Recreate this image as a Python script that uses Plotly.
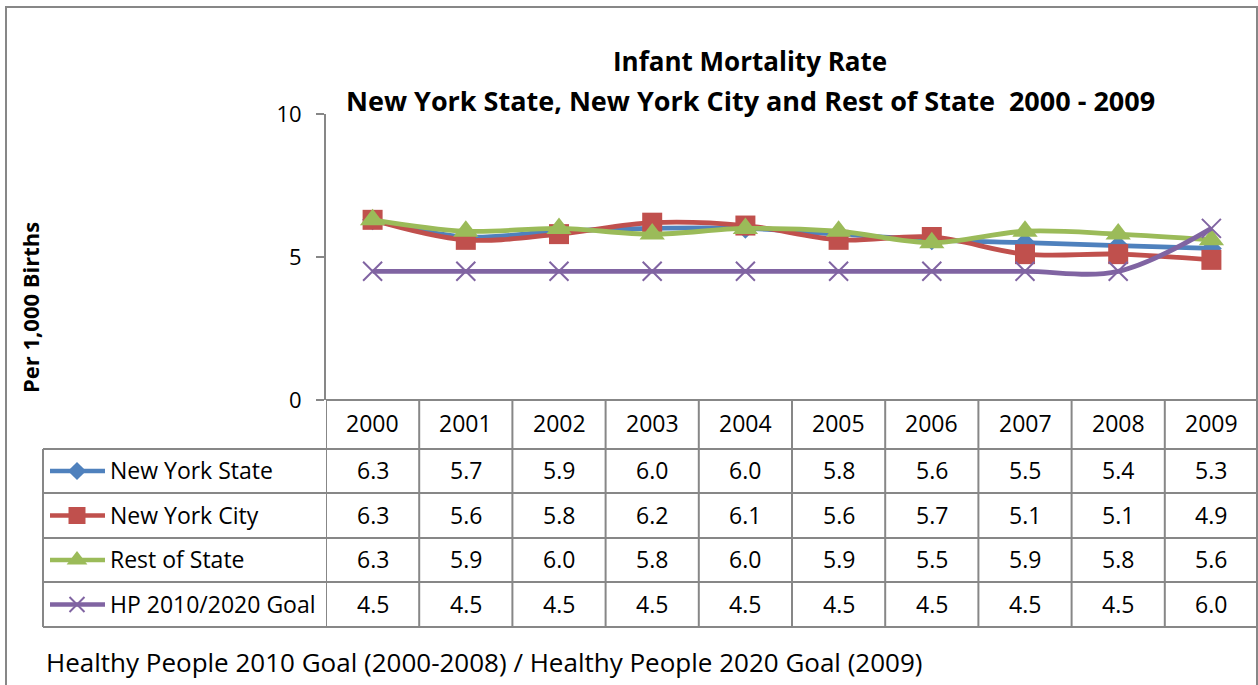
import plotly.graph_objects as go

# ---------------- data ----------------
years = ["2000", "2001", "2002", "2003", "2004", "2005", "2006", "2007", "2008", "2009"]
nys = [6.3, 5.7, 5.9, 6.0, 6.0, 5.8, 5.6, 5.5, 5.4, 5.3]
nyc = [6.3, 5.6, 5.8, 6.2, 6.1, 5.6, 5.7, 5.1, 5.1, 4.9]
ros = [6.3, 5.9, 6.0, 5.8, 6.0, 5.9, 5.5, 5.9, 5.8, 5.6]
goal = [4.5, 4.5, 4.5, 4.5, 4.5, 4.5, 4.5, 4.5, 4.5, 6.0]
series_names = ["New York State", "New York City", "Rest of State", "HP 2010/2020 Goal"]
y_ticks = [0, 5, 10]

title_line1 = "Infant Mortality Rate"
title_line2 = "New York State, New York City and Rest of State\u00a0\u00a02000 - 2009"
y_title = "Per 1,000 Births"
footnote = "Healthy People 2010 Goal (2000-2008) / Healthy People 2020 Goal (2009)"

# ---------------- styles ----------------
W, H = 1258, 685
FONT = "Open Sans"
GRAY = "#878787"
colors = ["#4F81BD", "#C0504D", "#9BBB59", "#8064A2"]
symbols = ["diamond", "square", "triangle-up", "x-thin"]
msizes = [16, 20, 22, 19]
key_sizes = [14, 17, 18, 15]
values = [nys, nyc, ros, goal]


def px(x):
    return x / W


def py(y):
    return 1 - y / H


PLOT_L, PLOT_R = 326, 1258
PLOT_T, PLOT_B = 114, 400
row_lines = [449, 493, 538, 582, 627]
row_centers = [(row_lines[i] + row_lines[i + 1]) / 2 for i in range(4)]

fig = go.Figure()
xs = list(range(len(years)))

for name, vals, c, s, ms in zip(series_names, values, colors, symbols, msizes):
    marker = dict(symbol=s, size=ms, color=c)
    if s == "x-thin":
        marker["line"] = dict(color=c, width=2)
    fig.add_trace(go.Scatter(
        x=xs, y=vals, name=name, mode="lines+markers",
        line=dict(color=c, width=4.8, shape="spline", smoothing=1.0),
        marker=marker, xaxis="x", yaxis="y", showlegend=False,
        cliponaxis=False,
    ))

# legend keys inside the table (on a full-figure overlay axis in pixel units)
for i, (name, c, s, ks) in enumerate(zip(series_names, colors, symbols, key_sizes)):
    yc = row_centers[i]
    marker = dict(symbol=s, size=ks, color=c)
    if s == "x-thin":
        marker["line"] = dict(color=c, width=2)
    fig.add_trace(go.Scatter(
        x=[50, 77, 105], y=[yc, yc, yc], mode="lines",
        line=dict(color=c, width=4.5), xaxis="x2", yaxis="y2",
        showlegend=False, hoverinfo="skip",
    ))
    fig.add_trace(go.Scatter(
        x=[77], y=[yc], mode="markers", marker=marker,
        xaxis="x2", yaxis="y2", showlegend=False, hoverinfo="skip",
    ))

shapes = []
# outer border
shapes.append(dict(type="rect", xref="paper", yref="paper",
                   x0=px(6), x1=px(1257), y0=py(700), y1=py(7),
                   line=dict(color=GRAY, width=2), layer="below"))
# table horizontal lines
shapes.append(dict(type="line", xref="paper", yref="paper",
                   x0=px(PLOT_L), x1=px(PLOT_R), y0=py(PLOT_B), y1=py(PLOT_B),
                   line=dict(color=GRAY, width=2)))
for yl in row_lines:
    shapes.append(dict(type="line", xref="paper", yref="paper",
                       x0=px(43), x1=px(PLOT_R), y0=py(yl), y1=py(yl),
                       line=dict(color=GRAY, width=2)))
# legend block left edge
shapes.append(dict(type="line", xref="paper", yref="paper",
                   x0=px(43), x1=px(43), y0=py(row_lines[0]), y1=py(row_lines[-1]),
                   line=dict(color=GRAY, width=2)))
# column dividers
for i in range(len(years) + 1):
    shapes.append(dict(type="line", xref="x", yref="paper",
                       x0=i - 0.5, x1=i - 0.5, y0=py(PLOT_B), y1=py(row_lines[-1]),
                       line=dict(color=GRAY, width=2)))

annotations = []
annotations.append(dict(text=f"<b>{title_line1}</b>", xref="paper", yref="paper",
                        x=px(750), y=py(61), showarrow=False, xanchor="center", yanchor="middle",
                        font=dict(family=FONT, size=26, color="black")))
annotations.append(dict(text=f"<b>{title_line2}</b>", xref="paper", yref="paper",
                        x=px(750), y=py(101), showarrow=False, xanchor="center", yanchor="middle",
                        font=dict(family=FONT, size=27, color="black")))
annotations.append(dict(text=f"<b>{y_title}</b>", xref="paper", yref="paper",
                        x=px(30), y=py(308), showarrow=False, textangle=-90,
                        xanchor="center", yanchor="middle",
                        font=dict(family=FONT, size=22, color="black")))
annotations.append(dict(text=footnote, xref="paper", yref="paper",
                        x=px(44), y=py(662), showarrow=False, xanchor="left", yanchor="middle",
                        font=dict(family=FONT, size=26, color="black")))
# header years
for i, yr in enumerate(years):
    annotations.append(dict(text=yr, xref="x", yref="paper", x=i, y=py(423),
                            showarrow=False, xanchor="center", yanchor="middle",
                            font=dict(family=FONT, size=23, color="black")))
# series names and values
for r, (name, vals) in enumerate(zip(series_names, values)):
    annotations.append(dict(text=name, xref="paper", yref="paper", x=px(108), y=py(row_centers[r] - 1),
                            showarrow=False, xanchor="left", yanchor="middle",
                            font=dict(family=FONT, size=23, color="black")))
    for i, v in enumerate(vals):
        annotations.append(dict(text=f"{v:.1f}", xref="x", yref="paper", x=i, y=py(row_centers[r] - 1),
                                showarrow=False, xanchor="center", yanchor="middle",
                                font=dict(family=FONT, size=23, color="black")))

fig.update_layout(
    width=W, height=H, autosize=False,
    margin=dict(l=0, r=0, t=0, b=0, pad=0, autoexpand=False),
    paper_bgcolor="white", plot_bgcolor="rgba(0,0,0,0)",
    font=dict(family=FONT, size=22, color="black"),
    xaxis=dict(domain=[px(PLOT_L), px(PLOT_R)], range=[-0.5, len(years) - 0.5],
               showticklabels=False, showgrid=False, zeroline=False, showline=False,
               ticks="", fixedrange=True, automargin=False),
    yaxis=dict(domain=[py(PLOT_B), py(PLOT_T)], range=[0, 10], tickvals=y_ticks,
               showgrid=False, zeroline=False, showline=True, linecolor=GRAY, linewidth=2,
               ticks="outside", ticklen=8, tickcolor=GRAY, tickwidth=2,
               ticklabelstandoff=10, automargin=False,
               tickfont=dict(family=FONT, size=22, color="black"), fixedrange=True),
    xaxis2=dict(domain=[0, 1], range=[0, W], visible=False, fixedrange=True, anchor="y2",
                automargin=False),
    yaxis2=dict(domain=[0, 1], range=[H, 0], visible=False, fixedrange=True, anchor="x2",
                automargin=False),
    shapes=shapes, annotations=annotations,
)

fig.write_html("out.html", config={"displayModeBar": False},
               post_script="document.body.style.margin='0';document.body.style.overflow='hidden';")
